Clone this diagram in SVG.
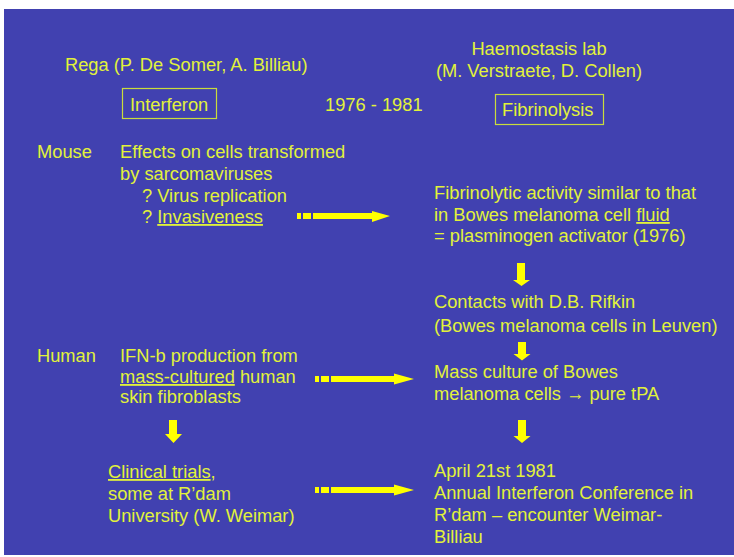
<svg xmlns="http://www.w3.org/2000/svg" width="734" height="557" viewBox="0 0 734 557">
<style>
text{font-family:"Liberation Sans",Arial,sans-serif;font-size:18.3px;fill:#e2f23a}
.box{fill:none;stroke:#c9dc3c;stroke-width:1.2}
.u{text-decoration:underline}
.arr{fill:#ffff00}
</style>
<rect x="0" y="0" width="734" height="557" fill="#ffffff"/>
<rect x="4" y="9" width="730" height="546" fill="#4141b0"/>
<g id="rega"><text x="65" y="71">Rega (P. De Somer, A. Billiau)</text></g>
<g id="interferon"><rect class="box" x="122.5" y="88.5" width="94" height="30"/><text x="130" y="111">Interferon</text></g>
<g id="years"><text x="325" y="111">1976 - 1981</text></g>
<g id="haemo"><text x="539" y="55" text-anchor="middle">Haemostasis lab</text><text x="539" y="77" text-anchor="middle">(M. Verstraete, D. Collen)</text></g>
<g id="fibrinolysis"><rect class="box" x="495.5" y="94.5" width="108" height="30"/><text x="502" y="116">Fibrinolysis</text></g>
<g id="mouse"><text x="37" y="158">Mouse</text></g>
<g id="effects"><text x="120" y="158">Effects on cells transformed</text><text x="120" y="180">by sarcomaviruses</text><text x="142" y="202">? Virus replication</text><text x="142" y="223">? <tspan class="u">Invasiveness</tspan></text></g>
<g id="fibact"><text x="434" y="199">Fibrinolytic activity similar to that</text><text x="434" y="221">in Bowes melanoma cell <tspan class="u">fluid</tspan></text><text x="434" y="242">= plasminogen activator (1976)</text></g>
<g id="contacts"><text x="434" y="308">Contacts with D.B. Rifkin</text><text x="434" y="332">(Bowes melanoma cells in Leuven)</text></g>
<g id="human"><text x="37" y="362">Human</text></g>
<g id="ifn"><text x="120" y="362">IFN-b production from</text><text x="120" y="383"><tspan class="u">mass-cultured</tspan> human</text><text x="120" y="403">skin fibroblasts</text></g>
<g id="massculture"><text x="434" y="378">Mass culture of Bowes</text><text x="434" y="400">melanoma cells → pure tPA</text></g>
<g id="clinical"><text x="108" y="478"><tspan class="u">Clinical trials</tspan>,</text><text x="108" y="500">some at R’dam</text><text x="108" y="522">University (W. Weimar)</text></g>
<g id="april"><text x="434" y="477">April 21st 1981</text><text x="434" y="499">Annual Interferon Conference in</text><text x="434" y="521">R’dam – encounter Weimar-</text><text x="434" y="543">Billiau</text></g>
<g id="connectors">
<path class="arr" d="M297,213h4v6h-4zM303,213h8v6h-8zM313,213H372V211L390,216L372,222V219H313z"/>
<path class="arr" d="M315,376h4v6h-4zM321,376h8v6h-8zM331,376H394V373.5L414,379L394,384.5V382H331z"/>
<path class="arr" d="M315,487h4v6h-4zM321,487h8v6h-8zM331,487H394V484.5L414,490L394,495.5V493H331z"/>
<path class="arr" d="M517,263h8v17h5l-8.5,6l-8.5,-6h4z"/>
<path class="arr" d="M518,342h8v12h4.5l-8.5,6.5l-8.5,-6.5h4.5z"/>
<path class="arr" d="M518,420h8v16h4.5l-8.5,7l-8.5,-7h4.5z"/>
<path class="arr" d="M169,420h8v14h5l-8.5,9l-8.5,-9h4z"/>
</g>
</svg>
